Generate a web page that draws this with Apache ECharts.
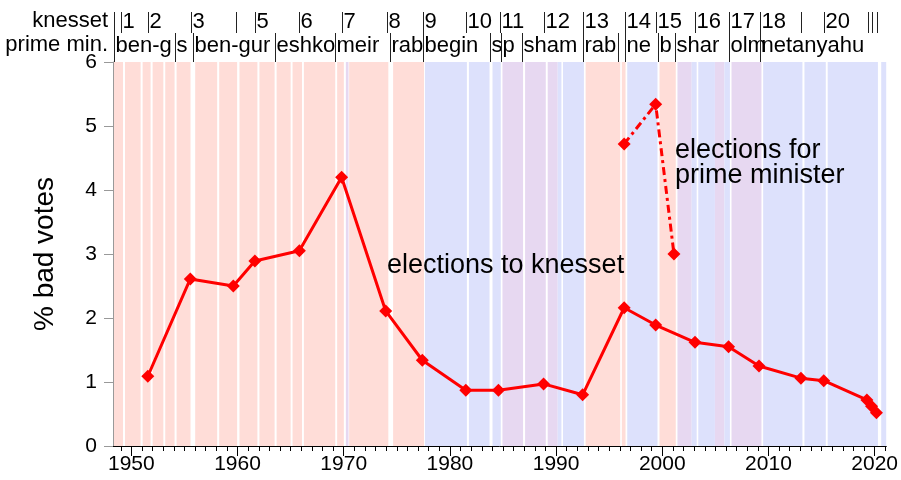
<!DOCTYPE html>
<html>
<head>
<meta charset="utf-8">
<script src="https://cdn.jsdelivr.net/npm/echarts@6/dist/echarts.min.js"></script>
<style>
  html, body { margin: 0; padding: 0; background: #fff; }
  #chart { width: 901px; height: 480px; }
</style>
</head>
<body>
<div id="chart"></div>
<script>
// knesset elections: % bad votes
var knessetYears = [1951.55, 1955.55, 1959.6, 1961.63, 1965.82, 1969.8, 1973.95, 1977.4, 1981.5, 1984.57,
  1988.82, 1992.5, 1996.41, 1999.38, 2003.08, 2006.24, 2009.11, 2013.06, 2015.21, 2019.27, 2019.71, 2020.17];
var knessetBad = [1.09, 2.61, 2.50, 2.89, 3.05, 4.20, 2.11, 1.34, 0.87, 0.87,
  0.97, 0.80, 2.16, 1.89, 1.62, 1.55, 1.25, 1.06, 1.02, 0.72, 0.62, 0.52];

// direct elections for prime minister
var pmYears = [1996.41, 1999.38, 2001.1];
var pmBad = [4.72, 5.34, 3.0];

// governments (background bands); kind 0 = left, 1 = right, 2 = unity
var bandStart = [1948.27, 1949.40, 1951.06, 1952.00, 1953.19, 1954.26, 1956.01, 1958.27, 1960.18, 1962.06,
  1963.68, 1965.18, 1966.25, 1969.38, 1970.20, 1970.51, 1974.65, 1977.65, 1981.79, 1984.01,
  1984.95, 1987.08, 1989.21, 1990.15, 1990.65, 1992.78, 1996.19, 1996.70, 1999.74, 2001.43,
  2002.77, 2003.39, 2004.96, 2005.85, 2006.52, 2009.50, 2013.39, 2015.58, 2020.62];
var bandEnd = [1949.21, 1950.87, 1951.81, 1953.01, 1954.07, 1955.57, 1958.08, 1959.96, 1961.87, 1963.49,
  1965.00, 1966.07, 1969.20, 1970.01, 1970.45, 1974.20, 1977.56, 1981.60, 1983.73, 1984.79,
  1986.89, 1989.03, 1990.15, 1990.50, 1992.62, 1996.04, 1996.54, 1999.55, 2001.27, 2002.77,
  2003.24, 2004.96, 2005.85, 2006.37, 2009.34, 2013.20, 2015.40, 2020.31, 2021.09];
var bandKind = [0, 0, 0, 0, 0, 0, 0, 0, 0, 0,
  0, 0, 0, 0, 2, 0, 0, 1, 1, 1,
  2, 2, 2, 1, 1, 0, 0, 1, 0, 2,
  1, 1, 2, 1, 2, 1, 1, 1, 1];

// header rows
var knessetAt = [1948.37, 1949.06, 1951.56, 1955.64, 1959.87, 1961.65, 1965.82, 1969.79, 1974.05, 1977.5,
  1981.53, 1984.67, 1988.9, 1992.53, 1996.5, 1999.38, 2003.08, 2006.3, 2009.25, 2013.1,
  2015.2, 2019.37, 2019.77, 2020.22];
var knessetLabels = ['', '1', '2', '3', '', '5', '6', '7', '8', '9',
  '10', '11', '12', '13', '14', '15', '16', '17', '18', '',
  '20', '', '', ''];
var pmAt = [1948.37, 1954.07, 1955.85, 1963.5, 1969.2, 1974.4, 1977.5, 1983.76, 1984.77, 1986.8,
  1992.53, 1995.87, 1996.5, 1999.57, 2001.2, 2006.3, 2009.25];
var pmLabels = ['ben-g', 's', 'ben-gur', 'eshko', 'meir', 'rab', 'begin', 's', 'p', 'sham',
  'rab', '', 'ne', 'b', 'shar', 'olm', 'netanyahu'];

var decadeTicks = [1950, 1960, 1970, 1980, 1990, 2000, 2010, 2020];

var bandColors = ['#ffddd8', '#dde1fc', '#e7d8f1'];
var FONT = '"Liberation Sans", Arial, sans-serif';

var minorTicks = [];
for (var y = 1949; y <= 2021; y++) minorTicks.push(y);

function zip(a, b) { return a.map(function (v, i) { return [v, b[i]]; }); }

function headerRender(labels, yTop, yBot, yText) {
  return function (params, api) {
    var x = Math.round(api.coord([api.value(0), 0])[0]) + 0.5;
    return {
      type: 'group',
      children: [
        { type: 'line', shape: { x1: x, y1: yTop, x2: x, y2: yBot },
          style: { stroke: '#222', lineWidth: 1 } },
        { type: 'text', x: x + 1, y: yText,
          style: { text: labels[params.dataIndex], font: '22px ' + FONT, fill: '#000', verticalAlign: 'middle' } }
      ]
    };
  };
}

var myChart = echarts.init(document.getElementById('chart'));
var option = {
  animation: false,
  grid: { left: 113, right: 13, top: 62, bottom: 34, containLabel: false },
  xAxis: [
    {
      type: 'value', position: 'bottom', min: 1948.27, max: 2021.1,
      axisLine: { show: true, onZero: false, lineStyle: { color: '#000', width: 1 } },
      axisTick: { show: true, customValues: decadeTicks, length: 10, lineStyle: { color: '#000' } },
      axisLabel: {
        customValues: decadeTicks, fontSize: 21, color: '#000', fontFamily: FONT, margin: 8,
        formatter: function (v) { return String(Math.round(v)); }
      },
      splitLine: { show: false }
    },
    {
      type: 'value', position: 'bottom', min: 1948.27, max: 2021.1,
      axisLine: { show: false },
      axisTick: { show: true, customValues: minorTicks, length: 5, lineStyle: { color: '#000' } },
      axisLabel: { show: false },
      splitLine: { show: false }
    }
  ],
  yAxis: {
    type: 'value', min: 0, max: 6, interval: 1,
    name: '% bad votes', nameLocation: 'middle', nameGap: 54,
    nameTextStyle: { fontSize: 28, color: '#000', fontFamily: FONT },
    axisLine: { show: true, lineStyle: { color: '#999' } },
    axisTick: { show: true, length: 9, lineStyle: { color: '#999' } },
    axisLabel: { fontSize: 21, color: '#000', fontFamily: FONT, margin: 16 },
    splitLine: { show: false }
  },
  graphic: [
    { type: 'text', z: 100, right: 901 - 108, top: 10, style: { text: 'knesset', font: '22px ' + FONT, fill: '#000' } },
    { type: 'text', z: 100, right: 901 - 108, top: 34, style: { text: 'prime min.', font: '22px ' + FONT, fill: '#000' } },
    { type: 'text', z: 100, left: 387, top: 252, style: { text: 'elections to knesset', font: '27px ' + FONT, fill: '#000' } },
    { type: 'text', z: 100, left: 675, top: 137, style: { text: 'elections for\nprime minister', font: '27px ' + FONT, lineHeight: 25, fill: '#000' } }
  ],
  series: [
    {
      type: 'custom', silent: true, z: 0, clip: true,
      encode: { x: [0, 1] },
      data: bandStart.map(function (s, i) { return [s, bandEnd[i], bandKind[i]]; }),
      renderItem: function (params, api) {
        var p0 = api.coord([api.value(0), 6]);
        var p1 = api.coord([api.value(1), 0]);
        return {
          type: 'rect',
          shape: { x: p0[0], y: p0[1], width: p1[0] - p0[0], height: p1[1] - p0[1] },
          style: { fill: bandColors[api.value(2)] }
        };
      }
    },
    {
      type: 'custom', silent: true, z: 1, clip: false,
      encode: { x: 0 },
      data: knessetAt.map(function (v) { return [v, 0]; }),
      renderItem: headerRender(knessetLabels, 12, 33, 22)
    },
    {
      type: 'custom', silent: true, z: 1, clip: false,
      encode: { x: 0 },
      data: pmAt.map(function (v) { return [v, 0]; }),
      renderItem: headerRender(pmLabels, 33, 62, 46)
    },
    {
      name: 'knesset', type: 'line', z: 3,
      data: zip(knessetYears, knessetBad),
      symbol: 'diamond', symbolSize: 13, showSymbol: true,
      lineStyle: { color: '#ff0000', width: 3 },
      itemStyle: { color: '#ff0000' }
    },
    {
      name: 'prime minister', type: 'line', z: 3,
      data: zip(pmYears, pmBad),
      symbol: 'diamond', symbolSize: 13,
      lineStyle: { color: '#ff0000', width: 3, type: [8, 4, 3, 4] },
      itemStyle: { color: '#ff0000' }
    }
  ]
};
myChart.setOption(option);
</script>
</body>
</html>
